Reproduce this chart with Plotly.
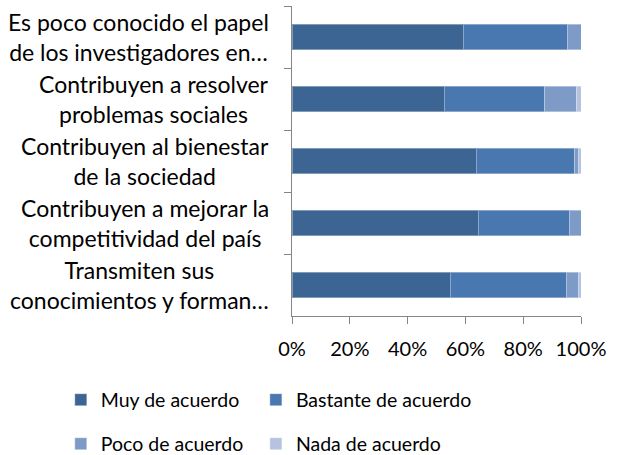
import plotly.graph_objects as go

categories = [
    "Es poco conocido el papel<br>de los investigadores en…",
    "Contribuyen a resolver<br>problemas sociales",
    "Contribuyen al bienestar<br>de la sociedad",
    "Contribuyen a mejorar la<br>competitividad del país",
    "Transmiten sus<br>conocimientos y forman…",
]
series_names = ["Muy de acuerdo", "Bastante de acuerdo", "Poco de acuerdo", "Nada de acuerdo"]
muy = [59.2, 52.6, 63.7, 64.4, 54.7]
bastante = [36.0, 34.9, 34.2, 31.5, 40.2]
poco = [4.8, 10.8, 1.4, 4.1, 4.4]
nada = [0.0, 1.7, 0.7, 0.0, 0.7]
x_ticks = [0, 20, 40, 60, 80, 100]
colors = ["#3D6594", "#4977AF", "#7E9BC8", "#B5C3E0"]
legend_ids = ["legend", "legend2", "legend3", "legend4"]
legend_pos = [(-0.80, -0.271), (-0.125, -0.271), (-0.80, -0.413), (-0.125, -0.413)]

FONT = "Lato"
LABEL_FS = 23
TICK_FS = 20
LEG_FS = 19.5

fig = go.Figure()
for name, vals, col, lg in zip(series_names, [muy, bastante, poco, nada], colors, legend_ids):
    fig.add_trace(go.Bar(
        y=categories, x=vals, name=name, orientation="h",
        marker=dict(color=col, line=dict(color="rgba(255,255,255,0.35)", width=1)),
        legend=lg,
    ))

for c in categories:
    fig.add_annotation(
        x=-0.072, xref="paper", y=c, yref="y", text=c, showarrow=False,
        xanchor="right", yanchor="middle", align="center",
        font=dict(family=FONT, size=LABEL_FS, color="#000000"),
    )

legend_layout = {}
for lg, (lx, ly) in zip(legend_ids, legend_pos):
    legend_layout[lg] = dict(
        orientation="h", x=lx, xanchor="left", y=ly, yanchor="middle",
        font=dict(family=FONT, size=LEG_FS, color="#000000"),
        bgcolor="rgba(0,0,0,0)", borderwidth=0,
    )

fig.update_layout(
    width=624, height=455,
    barmode="stack", barnorm="percent", bargap=0.59,
    margin=dict(l=292, r=43, t=6, b=139, pad=0, autoexpand=False),
    paper_bgcolor="white", plot_bgcolor="white",
    font=dict(family=FONT, size=TICK_FS, color="#000000"),
    xaxis=dict(
        range=[0, 100], tickvals=x_ticks, ticktext=[f"{v}%" for v in x_ticks],
        showgrid=False, zeroline=False, showline=True, linecolor="#868686", linewidth=1,
        ticks="outside", ticklen=7, tickcolor="#868686", ticklabelstandoff=8,
        tickfont=dict(family=FONT, size=TICK_FS, color="#000000"),
    ),
    yaxis=dict(
        autorange="reversed", showgrid=False, zeroline=False, showline=True,
        linecolor="#868686", linewidth=1, ticks="outside", ticklen=7, tickcolor="#868686",
        tickson="boundaries", showticklabels=False,
    ),
    showlegend=True,
    **legend_layout,
)

fig.write_html("out.html", config={"displayModeBar": False},
               post_script="document.body.style.margin='0';")
